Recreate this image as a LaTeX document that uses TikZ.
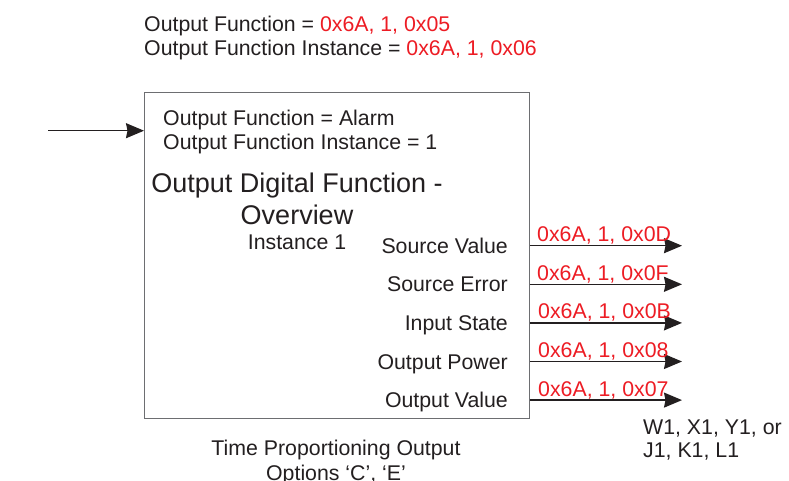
\documentclass[tikz,border=0pt]{standalone}
\usepackage{fontspec}
\setmainfont{Liberation Sans}
\usetikzlibrary{arrows.meta}
\definecolor{odfcolor0000}{RGB}{35,31,32}
\definecolor{odfcolor0001}{RGB}{237,28,36}
\definecolor{odfcolor0002}{RGB}{109,110,113}
\definecolor{odfcolor0003}{RGB}{255,255,255}
\begin{document}
\begin{tikzpicture}[yscale=-1
,font=\fontsize{21.3pt}{24pt}\selectfont
,every node/.style={inner sep=0pt,color=odfcolor0000}
,pstyle1/.style={color=odfcolor0002,line width=1.2pt}
,pstyle2/.style={color=odfcolor0000,line width=1.3pt,-{Stealth[length=18pt,width=15pt,inset=1.5pt]}}
,pstyle3/.style={color=odfcolor0001}
,pstyle4/.style={font=\fontsize{27pt}{32pt}\selectfont}
]
\useasboundingbox[fill=odfcolor0003] (0pt,0pt) rectangle (789pt,480pt);
\node (fn) at (144pt,31.5pt)[anchor=base west]{Output Function = \textcolor{odfcolor0001}{0x6A, 1, 0x05}};
\node (fninst) at (144pt,55.5pt)[anchor=base west]{Output Function Instance = \textcolor{odfcolor0001}{0x6A, 1, 0x06}};
\node (box) at (144pt,92pt)[pstyle1,draw,anchor=north west,minimum width=385pt,minimum height=326pt]{};
\coordinate (in) at (48pt,130.7pt);
\draw[pstyle2] (in) -- (in -| box.west);
\node (alarm) at (163pt,125.5pt)[anchor=base west]{Output Function = Alarm};
\node (alarminst) at (163pt,149.5pt)[anchor=base west]{Output Function Instance = 1};
\node (title) at (297pt,192.7pt)[pstyle4,anchor=base]{Output Digital Function -};
\node (overview) at (297pt,224.7pt)[pstyle4,anchor=base]{Overview};
\node (inst) at (297pt,249.2pt)[anchor=base]{Instance 1};
\coordinate (o1) at (682pt,245.7pt);
\coordinate (o2) at (682pt,284.3pt);
\coordinate (o3) at (682pt,322.9pt);
\coordinate (o4) at (682pt,361.5pt);
\coordinate (o5) at (682pt,400.1pt);
\node (srcval) at (508pt,253.2pt)[anchor=base east]{Source Value};
\node (srcerr) at (508pt,291.8pt)[anchor=base east]{Source Error};
\node (instate) at (508pt,330.4pt)[anchor=base east]{Input State};
\node (outpow) at (508pt,369pt)[anchor=base east]{Output Power};
\node (outval) at (508pt,407.6pt)[anchor=base east]{Output Value};
\draw[pstyle2] (o1 -| box.east) -- (o1);
\draw[pstyle2] (o2 -| box.east) -- (o2);
\draw[pstyle2] (o3 -| box.east) -- (o3);
\draw[pstyle2] (o4 -| box.east) -- (o4);
\draw[pstyle2] (o5 -| box.east) -- (o5);
\node (a1) at (537pt,241.7pt)[pstyle3,anchor=base west]{0x6A, 1, 0x0D};
\node (a2) at (537pt,280.3pt)[pstyle3,anchor=base west]{0x6A, 1, 0x0F};
\node (a3) at (538pt,318.9pt)[pstyle3,anchor=base west]{0x6A, 1, 0x0B};
\node (a4) at (538pt,357.5pt)[pstyle3,anchor=base west]{0x6A, 1, 0x08};
\node (a5) at (538pt,396.1pt)[pstyle3,anchor=base west]{0x6A, 1, 0x07};
\node (pins) at (643pt,434.5pt)[anchor=base west]{W1, X1, Y1, or};
\node (pins2) at (643pt,457.5pt)[anchor=base west]{J1, K1, L1};
\node (tpo) at (336pt,455.5pt)[anchor=base]{Time Proportioning Output};
\node (opts) at (336pt,480.5pt)[anchor=base]{Options ‘C’, ‘E’};
\end{tikzpicture}
\end{document}
